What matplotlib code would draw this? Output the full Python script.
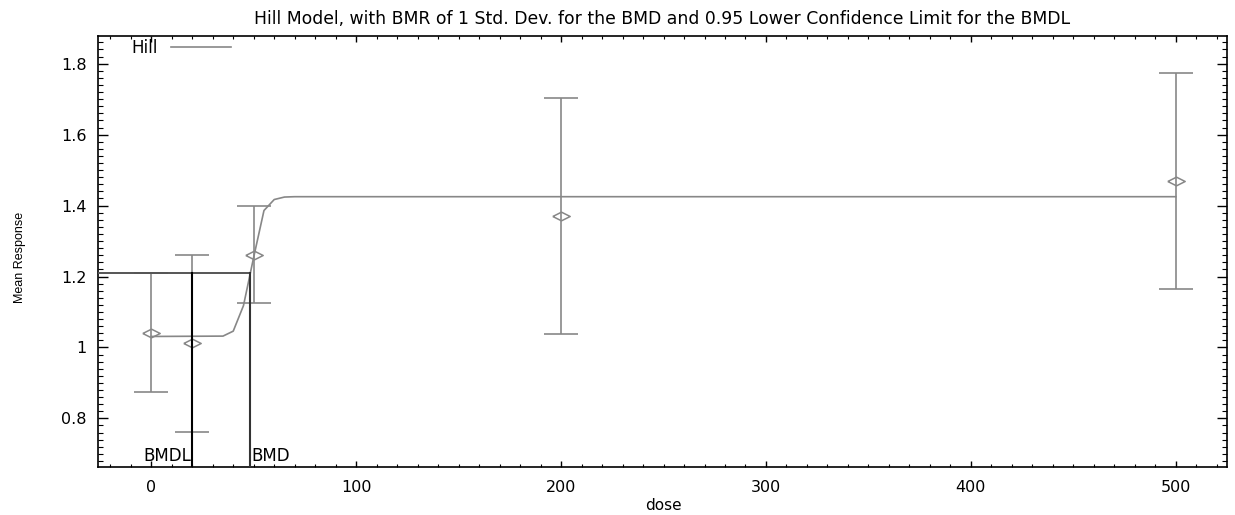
import numpy as np
import matplotlib
matplotlib.use("Agg")
import matplotlib.pyplot as plt
from matplotlib.ticker import MultipleLocator, FuncFormatter

plt.rcParams['font.family'] = ['DejaVu Sans']

# Observed data (dose, mean, CI lower, CI upper)
dose = [0, 20, 50, 200, 500]
mean = [1.042, 1.012, 1.261, 1.371, 1.470]
ci_lo = [0.875, 0.763, 1.124, 1.039, 1.165]
ci_hi = [1.210, 1.261, 1.400, 1.702, 1.774]

# Fitted Hill curve
fit_dose = [0, 35, 40, 45, 50, 55, 60, 65, 70, 500]
fit_resp = [1.031, 1.032, 1.046, 1.118, 1.255, 1.386, 1.417, 1.424, 1.425, 1.425]

# Benchmark values
bmr_level = 1.209
bmd = 48.0
bmdl = 20.0

title = "Hill Model, with BMR of 1 Std. Dev. for the BMD and 0.95 Lower Confidence Limit for the BMDL"
xlim = (-26, 525)
ylim = (0.663, 1.878)

W, H = 1235, 515
fig = plt.figure(figsize=(W / 100, H / 100), dpi=100)
ax = fig.add_axes([98/W, 1-467/H, (1227-98)/W, (467-36)/H])
ax.set_xlim(*xlim)
ax.set_ylim(*ylim)

gray = '#878787'
diamond = [(-1, 0), (0, 0.5), (1, 0), (0, -0.5), (-1, 0)]

ax.plot(fit_dose, fit_resp, color=gray, lw=1.2, label='Hill', zorder=2)

yerr = [np.array(mean) - np.array(ci_lo), np.array(ci_hi) - np.array(mean)]
ax.errorbar(dose, mean, yerr=yerr, fmt='none', ecolor=gray, elinewidth=1.2,
            capsize=12, capthick=1.2, zorder=3)
ax.plot(dose, mean, linestyle='none', marker=diamond, markersize=12.5,
        markerfacecolor='none', markeredgecolor=gray, markeredgewidth=1.1, zorder=4)

dark = '#333333'
ax.plot([xlim[0], bmd], [bmr_level, bmr_level], color='#555555', lw=1.4, zorder=5)
ax.plot([bmd, bmd], [ylim[0], bmr_level], color=dark, lw=1.5, zorder=5)
ax.plot([bmdl, bmdl], [ylim[0], bmr_level], color='black', lw=1.5, zorder=5)

ax.annotate('BMDL', xy=(bmdl, ylim[0]), xytext=(-0.5, 1.5), textcoords='offset points',
            ha='right', va='bottom', fontsize=12)
ax.annotate('BMD', xy=(bmd, ylim[0]), xytext=(1, 1.5), textcoords='offset points',
            ha='left', va='bottom', fontsize=12)

ax.xaxis.set_major_locator(MultipleLocator(100))
ax.xaxis.set_minor_locator(MultipleLocator(10))
ax.yaxis.set_major_locator(MultipleLocator(0.2))
ax.yaxis.set_minor_locator(MultipleLocator(0.02))
ax.yaxis.set_major_formatter(FuncFormatter(lambda v, p: f"{v:g}"))

ax.tick_params(axis='both', which='both', direction='in', top=True, right=True,
               colors='black', labelsize=11.5)
ax.tick_params(axis='x', which='major', length=4, width=1, pad=9)
ax.tick_params(axis='x', which='minor', length=2, width=0.8)
ax.tick_params(axis='y', which='major', length=7, width=1, pad=8)
ax.tick_params(axis='y', which='minor', length=3.5, width=0.8)
for s in ax.spines.values():
    s.set_linewidth(1.2)

ax.set_xlabel('dose', fontsize=11)
ax.xaxis.set_label_coords(663/W, 1-498/H, transform=fig.transFigure)
ax.set_ylabel('Mean Response', fontsize=9, family='Liberation Sans')
ax.yaxis.set_label_coords(26/W, 1-257/H, transform=fig.transFigure)
ax.set_title(title, fontsize=12.4, pad=9)

leg = ax.legend(loc='upper left', frameon=False, fontsize=12, handlelength=3.6,
                bbox_to_anchor=(0.018, 1.025), handletextpad=0.8, markerfirst=False,
                borderpad=0.3)

fig.savefig('out.png', dpi=100)
